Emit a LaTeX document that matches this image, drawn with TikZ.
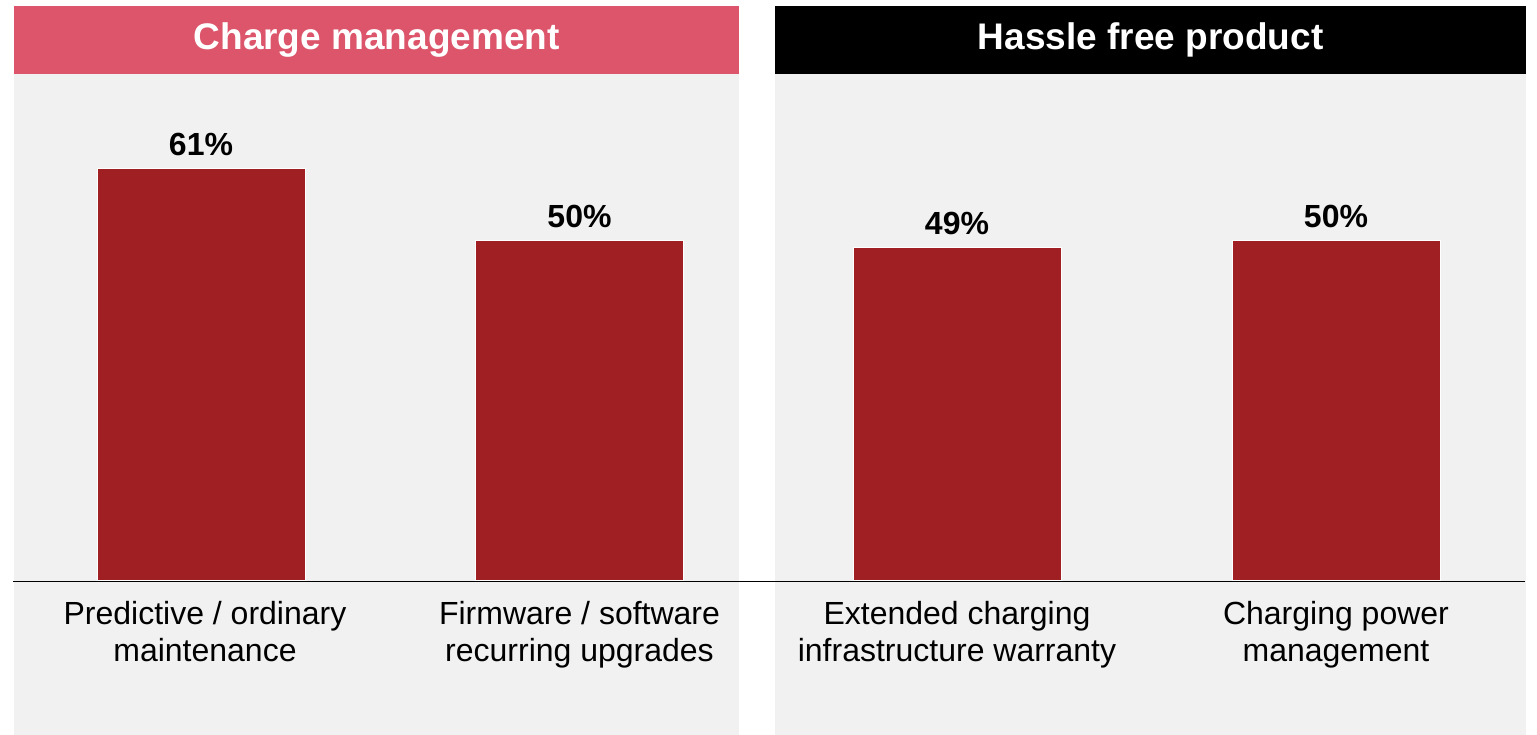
\documentclass[tikz,border=0pt]{standalone}
\usepackage{fontspec}
\setmainfont{Liberation Sans}
\usepackage{xcolor}
\usetikzlibrary{positioning}
\definecolor{headred}{RGB}{220,85,107}
\definecolor{barred}{RGB}{160,31,34}
\definecolor{panelgray}{RGB}{241,241,241}

\begin{document}
\begin{tikzpicture}[
  x=1pt,y=-1pt,
  header/.style={rectangle,anchor=north west,inner sep=0pt,
                 minimum height=68pt,text=white,
                 font=\fontsize{37}{44}\selectfont\bfseries},
  bar/.style={rectangle,anchor=south,fill=barred,draw=white,line width=.8pt,
              minimum width=208pt,inner sep=0pt},
  value/.style={inner sep=0pt,font=\fontsize{32}{38}\selectfont\bfseries},
  cat/.style={align=center,inner sep=0pt,font=\fontsize{32}{37}\selectfont}]
\useasboundingbox (0,0) rectangle (1537,735);
% panels
\fill[panelgray] (14,74) rectangle (739,735);
\fill[panelgray] (775,74) rectangle (1526,735);
\node[header,fill=headred,minimum width=725pt] (charge) at (14,6) {Charge management};
\node[header,fill=black,minimum width=751pt] (hassle) at (775,6) {Hassle free product};
% bars
\node[bar,minimum height=412pt] (maint) at (201,581) {};
\node[bar,minimum height=340pt] (firm) at (579.5,581) {};
\node[bar,minimum height=333pt] (warr) at (957,581) {};
\node[bar,minimum height=340pt] (power) at (1336,581) {};
\node[value,above=12pt of maint] (vmaint) {61\%};
\node[value,above=12pt of firm] (vfirm) {50\%};
\node[value,above=12pt of warr] (vwarr) {49\%};
\node[value,above=12pt of power] (vpower) {50\%};
% axis
\coordinate (axisL) at (13,581.5);
\coordinate (axisR) at (1525,581.5);
\draw[line width=1.8pt] (axisL)--(axisR);
\node[cat,below=20pt of maint,xshift=4pt] (cmaint) {Predictive / ordinary\\maintenance};
\node[cat,below=20pt of firm] (cfirm) {Firmware / software\\recurring upgrades};
\node[cat,below=20pt of warr] (cwarr) {Extended charging\\infrastructure warranty};
\node[cat,below=20pt of power] (cpower) {Charging power\\management};
\end{tikzpicture}
\end{document}
